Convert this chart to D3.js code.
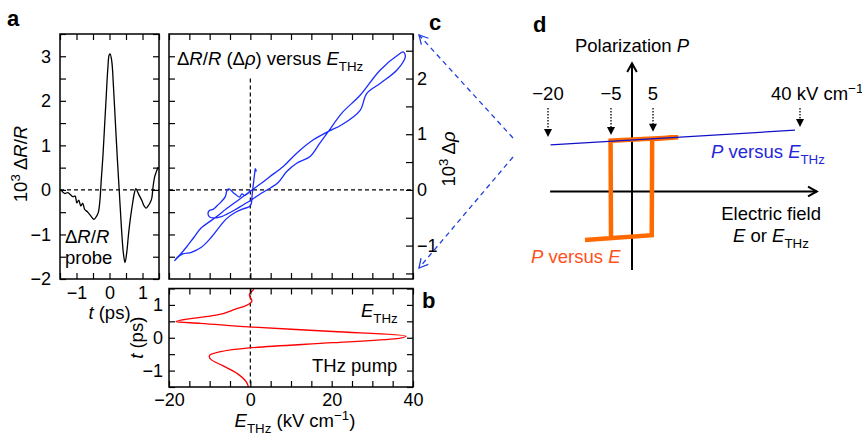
<!DOCTYPE html>
<html><head><meta charset="utf-8">
<script src="https://cdn.jsdelivr.net/npm/d3@7"></script>
<style>html,body{margin:0;padding:0;background:#fff}svg text{white-space:pre}</style>
</head><body><svg id="fig" width="862" height="437"></svg>
<script>
// ---------- data ----------
// panel a: ΔR/R (x10^3) vs probe delay t (ps)
const tA = [-1.48,-1.36,-1.26,-1.18,-1.11,-1.04,-0.99,-0.93,-0.87,-0.81,-0.75,-0.67,-0.59,-0.51,-0.47,-0.40,-0.34,-0.29,-0.25,-0.20,-0.15,-0.10,-0.05,-0.01,0.02,0.07,0.12,0.18,0.24,0.30,0.36,0.42,0.47,0.52,0.58,0.64,0.70,0.75,0.80,0.86,0.92,0.98,1.05,1.11,1.17,1.23,1.28,1.32,1.37,1.42,1.47];
const dA = [0.01,-0.08,-0.06,-0.11,-0.15,-0.14,-0.29,-0.23,-0.36,-0.30,-0.44,-0.49,-0.56,-0.64,-0.66,-0.60,-0.51,-0.23,0.22,0.75,1.42,2.09,2.73,3.03,3.05,2.88,2.32,1.49,0.67,-0.08,-0.83,-1.42,-1.63,-1.42,-0.97,-0.60,-0.30,-0.08,0.03,-0.06,-0.15,-0.24,-0.36,-0.41,-0.36,-0.29,-0.19,0.07,0.30,0.41,0.51];
// panel b: THz field (kV/cm) vs t (ps)
const tB = [1.50,1.46,1.31,1.12,0.98,0.88,0.69,0.59,0.49,0.44,0.33,0.19,0.05,-0.02,-0.15,-0.31,-0.43,-0.56,-0.66,-0.85,-1.10,-1.31,-1.46,-1.50];
const eB = [0.9,0.7,-0.25,0.4,-1.06,-3.5,-8.4,-14.2,-18.3,-12.3,-0.25,20.3,38.3,36.6,20.3,-0.25,-7.6,-10.1,-9.7,-6.8,-3.1,-1.2,-0.57,-0.5];
// panel c: Δρ (x10^3) vs E_THz (kV/cm)
const eC = [0,-0.57,-1.39,-2.05,-2.70,-3.44,-4.18,-4.84,-5.33,-5.74,-6.15,-7.13,-8.11,-9.18,-10.08,-10.41,-9.92,-8.36,-7.13,-5.90,-3.85,-1.80,0.25,2.70,4.84,6.80,
  8.95,11.4,14.7,17.1,19.2,22.5,27.0,31.9,36.8,37.6,38.1,38.0,36.0,31.9,28.6,27.0,22.5,19.2,15.5,11.4,8.1,4.84,
  2.70,0.25,-1.80,-3.85,-5.90,-7.95,-10.0,-12.05,-13.85,-15.74,-17.13,-18.2,-18.6,
  -17.8,-16.6,-14.5,-12.05,-9.59,-7.54,-5.90,-3.85,-1.80,-0.16,0.25,0.41,0.57,0.82,1.07,1.23,1.48];
const rhoC = [-0.01,-0.06,-0.10,-0.07,-0.13,-0.09,-0.05,0.00,0.02,-0.01,-0.12,-0.21,-0.28,-0.35,-0.37,-0.43,-0.49,-0.50,-0.48,-0.44,-0.36,-0.27,-0.18,-0.06,0.03,0.13,
  0.33,0.48,0.60,0.84,1.05,1.38,1.70,2.15,2.45,2.48,2.42,2.36,2.15,1.91,1.73,1.43,1.17,1.05,0.90,0.66,0.42,0.24,
  0.12,-0.01,-0.12,-0.23,-0.34,-0.46,-0.57,-0.68,-0.85,-1.03,-1.15,-1.23,-1.27,
  -1.21,-1.15,-1.12,-1.03,-0.85,-0.66,-0.52,-0.41,-0.34,-0.30,-0.24,-0.12,0.00,0.15,0.30,0.38,0.33];
// panel d: schematic
const markE = [-20, -5, 5, 40];
const markLabels = ['−20', '−5', '5', '40 kV cm'];
const markTipP = [1.15, 1.19, 1.26, 1.36];
const markTopP = 1.76;
const thzE = [-19.4, 38.8], thzP = [0.98, 1.29];
const loopE = [-11.2, 4.7, 4.8, 11.0, -5.1, -5.0];
const loopP = [-1.02, -0.92, 1.10, 1.14, 1.07, -0.98];
const axisE = [-19.5, 44], axisP = [-1.65, 2.7];

// ---------- setup ----------
const FONT = "'Liberation Sans', Arial, Helvetica, sans-serif";
const TICK = 18, LAB = 18.5;
const svg = d3.select('#fig').attr('font-family', FONT);
svg.append('rect').attr('width',862).attr('height',437).attr('fill','#fff');
const fmt = d3.format('d');
const intFmt = d => Math.abs(d - Math.round(d)) < 1e-9 ? fmt(d) : '';

function rich(parent, x, y, parts, o = {}) {
  const size = o.size || LAB;
  const t = parent.append('text').attr('x', x).attr('y', y).attr('font-size', size)
    .attr('text-anchor', o.anchor || 'start').attr('fill', o.fill || '#000');
  if (o.weight) t.attr('font-weight', o.weight);
  if (o.rotate) t.attr('transform', `rotate(${o.rotate},${x},${y})`);
  let shift = 0;
  parts.forEach(p => {
    const [txt, st] = typeof p === 'string' ? [p, ''] : [p[0], p[1]];
    const ts = t.append('tspan').text(txt);
    let target = 0;
    const flags = st.split(' ');
    if (flags.includes('sub')) { target = size * 0.3; ts.attr('font-size', size * 0.72); }
    if (flags.includes('sup')) { target = -size * 0.4; ts.attr('font-size', size * 0.72); }
    if (flags.includes('i')) ts.attr('font-style', 'italic');
    if (target !== shift) { ts.attr('dy', target - shift); shift = target; }
  });
  return t;
}
function axisG(axis, tx, ty, size = TICK) {
  const g = svg.append('g').attr('transform', `translate(${tx},${ty})`).call(axis);
  g.select('.domain').remove();
  g.selectAll('.tick line').attr('stroke', '#000').attr('stroke-width', 1.2);
  g.selectAll('text').attr('font-size', size).attr('font-family', FONT).attr('fill', '#000');
  return g;
}
function frame(x0, x1, y0, y1) {
  svg.append('rect').attr('x', x0).attr('y', y0).attr('width', x1 - x0).attr('height', y1 - y0)
    .attr('fill', 'none').attr('stroke', '#000').attr('stroke-width', 1.5);
}

// ---------- panel a ----------
const xA = d3.scaleLinear([-1.5, 1.5], [60, 159]);
const yA = d3.scaleLinear([-2, 3.5], [279, 34]);
const ticksA_y = d3.range(-2, 3.51, 0.5), ticksA_x = d3.range(-1.5, 1.51, 0.5);
svg.append('line').attr('x1', xA(-1.5)).attr('x2', xA(1.5)).attr('y1', yA(0)).attr('y2', yA(0))
  .attr('stroke', '#000').attr('stroke-width', 1.2).attr('stroke-dasharray', '4,3');
svg.append('path').datum(d3.zip(tA, dA))
  .attr('d', d3.line().x(d => xA(d[0])).y(d => yA(d[1])).curve(d3.curveCatmullRom.alpha(0.5)))
  .attr('fill', 'none').attr('stroke', '#000').attr('stroke-width', 1.3);
axisG(d3.axisLeft(yA).tickValues(ticksA_y).tickSize(-6).tickPadding(9).tickFormat(intFmt), xA(-1.5), 0);
axisG(d3.axisRight(yA).tickValues(ticksA_y).tickSize(-6).tickFormat(''), xA(1.5), 0);
axisG(d3.axisBottom(xA).tickValues(ticksA_x).tickSize(-6).tickPadding(7).tickFormat(intFmt), 0, yA(-2));
axisG(d3.axisTop(xA).tickValues(ticksA_x).tickSize(-6).tickFormat(''), 0, yA(3.5));
frame(xA(-1.5), xA(1.5), yA(3.5), yA(-2));
rich(svg, 65, 243, ['Δ', ['R', 'i'], '/', ['R', 'i']]);
rich(svg, 65, 264, ['probe']);
rich(svg, 27, 164, ['10', ['3', 'sup'], ' Δ', ['R', 'i'], '/', ['R', 'i']], {anchor: 'middle', rotate: -90});
rich(svg, xA(0), 319, [['t', 'i'], ' (ps)'], {anchor: 'middle'});
rich(svg, 7, 26, ['a'], {size: 22, weight: 'bold'});

// ---------- panel c ----------
const xC = d3.scaleLinear([-20, 40], [169, 413]);
const yC = d3.scaleLinear([-1.6, 2.8], [279, 34]);
const ticksC_x = d3.range(-20, 40.1, 5), ticksC_r = d3.range(-1.5, 2.51, 0.5);
const ticksC_l = d3.range(-1.5, 3.01, 0.5);
svg.append('line').attr('x1', xC(-20)).attr('x2', xC(40)).attr('y1', yC(0)).attr('y2', yC(0))
  .attr('stroke', '#000').attr('stroke-width', 1.2).attr('stroke-dasharray', '4,3');
svg.append('line').attr('x1', xC(0)).attr('x2', xC(0)).attr('y1', yA(2.5)).attr('y2', yC(-1.6))
  .attr('stroke', '#000').attr('stroke-width', 1.2).attr('stroke-dasharray', '4,3');
svg.append('path').datum(d3.zip(eC, rhoC))
  .attr('d', d3.line().x(d => xC(d[0])).y(d => yC(d[1])).curve(d3.curveCatmullRom.alpha(0.5)))
  .attr('fill', 'none').attr('stroke', '#1a2cff').attr('stroke-width', 1.3).attr('stroke-linejoin', 'round');
axisG(d3.axisLeft(yA).tickValues(ticksC_l).tickSize(-6).tickFormat(''), xC(-20), 0);
axisG(d3.axisRight(yC).tickValues(ticksC_r).tickSize(-7).tickPadding(4).tickFormat(intFmt), xC(40), 0);
axisG(d3.axisBottom(xC).tickValues(ticksC_x).tickSize(-6).tickFormat(''), 0, yC(-1.6));
axisG(d3.axisTop(xC).tickValues(ticksC_x).tickSize(-6).tickFormat(''), 0, yC(2.8));
frame(xC(-20), xC(40), yC(2.8), yC(-1.6));
rich(svg, 177, 65, ['Δ', ['R', 'i'], '/', ['R', 'i'], ' (Δ', ['ρ', 'i'], ') versus ', ['E', 'i'], ['THz', 'sub']]);
rich(svg, 455, 159, ['10', ['3', 'sup'], ' Δ', ['ρ', 'i']], {anchor: 'middle', rotate: -90});
rich(svg, 429, 30, ['c'], {size: 22, weight: 'bold'});

// ---------- panel b ----------
const yB = d3.scaleLinear([-1.5, 1.5], [387, 288.5]);
const ticksB_y = d3.range(-1.5, 1.51, 0.5);
svg.append('line').attr('x1', xC(0)).attr('x2', xC(0)).attr('y1', yB(1.5)).attr('y2', yB(-1.5))
  .attr('stroke', '#000').attr('stroke-width', 1.2).attr('stroke-dasharray', '4,3');
svg.append('path').datum(d3.zip(eB, tB).sort((a, b) => a[1] - b[1]))
  .attr('d', d3.line().x(d => xC(d[0])).y(d => yB(d[1])).curve(d3.curveMonotoneY))
  .attr('fill', 'none').attr('stroke', '#ff0000').attr('stroke-width', 1.3);
axisG(d3.axisLeft(yB).tickValues(ticksB_y).tickSize(-6).tickPadding(6).tickFormat(intFmt), xC(-20), 0);
axisG(d3.axisRight(yB).tickValues(ticksB_y).tickSize(-6).tickFormat(''), xC(40), 0);
axisG(d3.axisBottom(xC).tickValues(ticksC_x).tickSize(-6).tickPadding(6)
  .tickFormat(d => d % 20 === 0 ? fmt(d) : ''), 0, yB(-1.5));
axisG(d3.axisTop(xC).tickValues(ticksC_x).tickSize(-6).tickFormat(''), 0, yB(1.5));
frame(xC(-20), xC(40), yB(1.5), yB(-1.5));
rich(svg, 361, 317, [['E', 'i'], ['THz', 'sub']]);
rich(svg, 312, 372, ['THz pump']);
rich(svg, 143, yB(0), [['t', 'i'], ' (ps)'], {anchor: 'middle', rotate: -90});
rich(svg, xC(10) + 4, 427, [['E', 'i'], ['THz', 'sub'], ' (kV cm', ['−1', 'sup'], ')'], {anchor: 'middle'});
rich(svg, 422, 308, ['b'], {size: 22, weight: 'bold'});

// ---------- connecting dashed arrows ----------
const blueA = '#1f3fe0';
function openHead(x, y, fromX, fromY, len, col, w) {
  const a = Math.atan2(fromY - y, fromX - x), s = 0.5;
  svg.append('path').attr('d', `M${x + len * Math.cos(a + s)},${y + len * Math.sin(a + s)}L${x},${y}L${x + len * Math.cos(a - s)},${y + len * Math.sin(a - s)}`)
    .attr('fill', 'none').attr('stroke', col).attr('stroke-width', w);
}
[[513, 138, 419, 35], [513, 157, 419, 268]].forEach(([x1, y1, x2, y2]) => {
  svg.append('line').attr('x1', x1).attr('y1', y1).attr('x2', x2).attr('y2', y2)
    .attr('stroke', blueA).attr('stroke-width', 1.3).attr('stroke-dasharray', '5,4');
  openHead(x2, y2, x1, y1, 10, blueA, 1.3);
});

// ---------- panel d ----------
const xD = d3.scaleLinear([-20, 40], [548, 800]);
const yD = d3.scaleLinear([-1, 1], [239, 144]);
rich(svg, 533, 32, ['d'], {size: 22, weight: 'bold'});
svg.append('line').attr('x1', xD(axisE[0])).attr('x2', xD(axisE[1])).attr('y1', yD(0)).attr('y2', yD(0))
  .attr('stroke', '#000').attr('stroke-width', 2);
openHead(xD(axisE[1]), yD(0), xD(0), yD(0), 10, '#000', 2);
svg.append('line').attr('x1', xD(0)).attr('x2', xD(0)).attr('y1', yD(axisP[0])).attr('y2', yD(axisP[1]))
  .attr('stroke', '#000').attr('stroke-width', 2);
openHead(xD(0), yD(axisP[1]), xD(0), yD(0), 10, '#000', 2);
svg.append('path').datum(d3.zip(loopE, loopP))
  .attr('d', d3.line().x(d => xD(d[0])).y(d => yD(d[1])))
  .attr('fill', 'none').attr('stroke', '#ff6a00').attr('stroke-width', 4.5).attr('stroke-linejoin', 'miter');
svg.append('path').datum(d3.zip(thzE, thzP))
  .attr('d', d3.line().x(d => xD(d[0])).y(d => yD(d[1])))
  .attr('fill', 'none').attr('stroke', '#1010c8').attr('stroke-width', 1.3);
markE.forEach((e, i) => {
  const x = xD(e), yt = yD(markTipP[i]), y0 = yD(markTopP);
  svg.append('line').attr('x1', x).attr('x2', x).attr('y1', y0).attr('y2', yt - 7)
    .attr('stroke', '#000').attr('stroke-width', 1.3).attr('stroke-dasharray', '1.5,1.5');
  svg.append('path').attr('d', `M${x - 4},${yt - 8}L${x + 4},${yt - 8}L${x},${yt}Z`).attr('fill', '#000');
  if (i < 3) rich(svg, x, 100, [markLabels[i]], {anchor: 'middle'});
  else rich(svg, x - 29, 100, [markLabels[i], ['−1', 'sup']]);
});
rich(svg, xD(0), 52, ['Polarization ', ['P', 'i']], {anchor: 'middle'});
rich(svg, 711, 158, [['P', 'i'], ' versus ', ['E', 'i'], ['THz', 'sub']], {fill: '#2626d9'});
rich(svg, 821, 220, ['Electric field'], {anchor: 'end'});
rich(svg, 733, 242, [['E', 'i'], ' or ', ['E', 'i'], ['THz', 'sub']]);
rich(svg, 531, 263, [['P', 'i'], ' versus ', ['E', 'i']], {fill: '#ff5020'});
</script></body></html>
